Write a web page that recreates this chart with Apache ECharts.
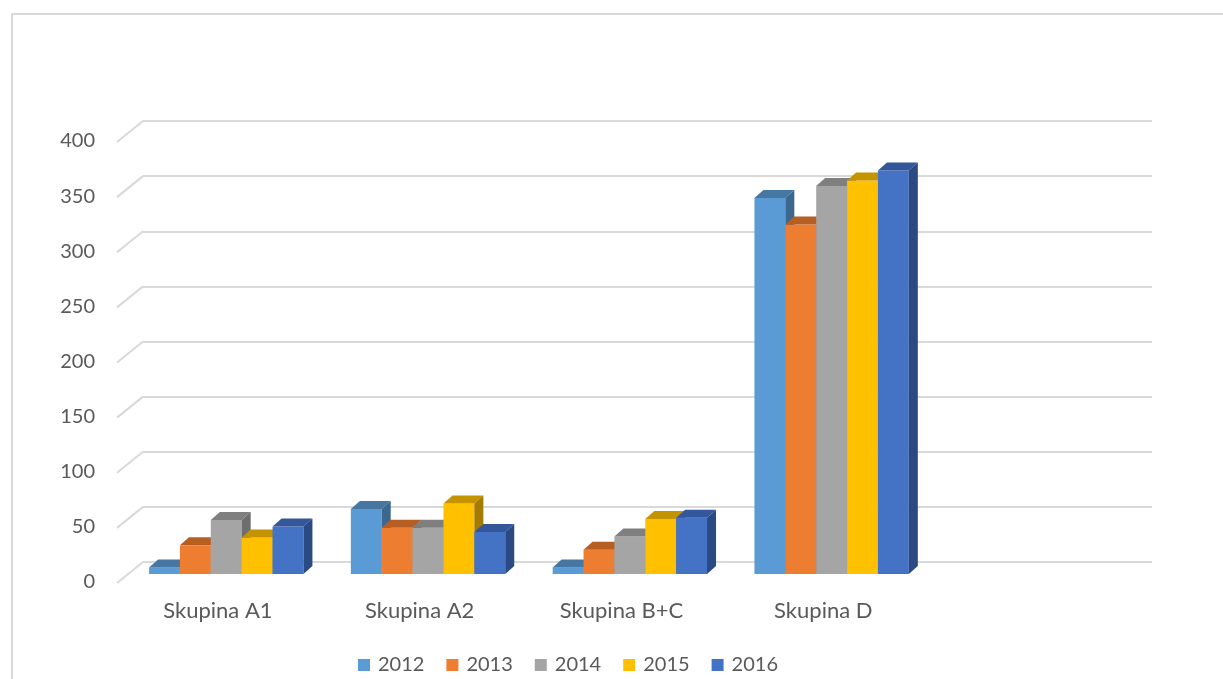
<!DOCTYPE html>
<html>
<head>
<meta charset="utf-8">
<script src="https://cdn.jsdelivr.net/npm/echarts@6/dist/echarts.min.js"></script>
<style>html,body{margin:0;padding:0;background:#fff;}#c{width:1223px;height:679px;}</style>
</head>
<body>
<div id="c"></div>
<script>
const categories = ['Skupina A1', 'Skupina A2', 'Skupina B+C', 'Skupina D', ''];
const years = ['2012', '2013', '2014', '2015', '2016'];
const v2012 = [6, 59, 6, 341];
const v2013 = [26, 42, 22, 317];
const v2014 = [49, 42, 34, 352];
const v2015 = [33, 64, 50, 357];
const v2016 = [43, 38, 51, 366];
const yTicks = [0, 50, 100, 150, 200, 250, 300, 350, 400];
const colors = ['#5b9bd5', '#ed7d31', '#a5a5a5', '#ffc000', '#4472c4'];
const topColors = ['#4677a3', '#b75e22', '#7f7f7f', '#c49400', '#33579a'];
const sideColors = ['#3c6890', '#9e511c', '#6e6e6e', '#a67c00', '#2b4a83'];

const seriesValues = [v2012, v2013, v2014, v2015, v2016];
const FONT = 'Lato, "Open Sans", sans-serif';
const chart = echarts.init(document.getElementById('c'));

function barRender(s) {
  return function (params, api) {
    const ci = api.value(0), v = api.value(1);
    const c = api.coord([ci, v]);
    const b = api.coord([ci, 0]);
    const bw = api.size([1, 0])[0];
    const w = bw * 0.153;
    const x0 = b[0] - bw * 0.47 + s * w;
    const yTop = c[1] + 12, yBot = b[1] + 12;
    const dx = 9, dy = 8;
    return {
      type: 'group',
      children: [
        { type: 'rect', shape: { x: x0, y: yTop, width: w, height: yBot - yTop }, style: { fill: colors[s] } },
        { type: 'polygon', shape: { points: [[x0, yTop], [x0 + dx, yTop - dy], [x0 + w + dx, yTop - dy], [x0 + w, yTop]] },
          style: { fill: topColors[s] } },
        { type: 'polygon', shape: { points: [[x0 + w, yTop], [x0 + w + dx, yTop - dy], [x0 + w + dx, yBot - dy], [x0 + w, yBot]] },
          style: { fill: sideColors[s] } }
      ]
    };
  };
}

const series = years.map((y, s) => ({
  name: y,
  type: 'custom',
  renderItem: barRender(s),
  itemStyle: { color: colors[s] },
  data: seriesValues[s].map((v, i) => [i, v]),
  z: 3 + s
}));

series.push({
  name: 'depthLines',
  type: 'custom',
  silent: true,
  z: 1,
  renderItem: function (params, api) {
    const p = api.coord([0, api.value(1)]);
    const gx = params.coordSys.x;
    return { type: 'line', shape: { x1: gx - 26, y1: p[1] + 21, x2: gx, y2: p[1] },
      style: { stroke: '#d9d9d9', lineWidth: 2 } };
  },
  data: yTicks.map(t => [0, t])
});

chart.setOption({
  backgroundColor: '#ffffff',
  animation: false,
  color: colors,
  graphic: [{
    type: 'rect', silent: true, z: 0,
    shape: { x: 12, y: 14, width: 1400, height: 800 },
    style: { fill: 'none', stroke: '#d9d9d9', lineWidth: 2 }
  }],
  grid: { left: 143, right: 71, top: 121, bottom: 117 },
  legend: {
    data: years,
    left: 353,
    top: 650,
    itemWidth: 12,
    itemHeight: 12,
    itemGap: 22,
    icon: 'rect',
    textStyle: { fontFamily: FONT, fontSize: 20, color: '#595959', padding: [0, 0, 0, 3] }
  },
  xAxis: {
    type: 'category',
    data: categories,
    axisLine: { show: false },
    axisTick: { show: false },
    axisLabel: { fontFamily: FONT, fontSize: 22, color: '#595959', margin: 38, padding: [0, 52, 0, 0], interval: 0 }
  },
  yAxis: {
    type: 'value',
    min: 0, max: 400, interval: 50,
    axisLine: { show: false },
    axisTick: { show: false },
    splitLine: { lineStyle: { color: '#d9d9d9', width: 2 } },
    axisLabel: { fontFamily: FONT, fontSize: 20, color: '#595959', margin: 48, verticalAlign: 'top', lineHeight: 40 }
  },
  series: series
});
</script>
</body>
</html>
